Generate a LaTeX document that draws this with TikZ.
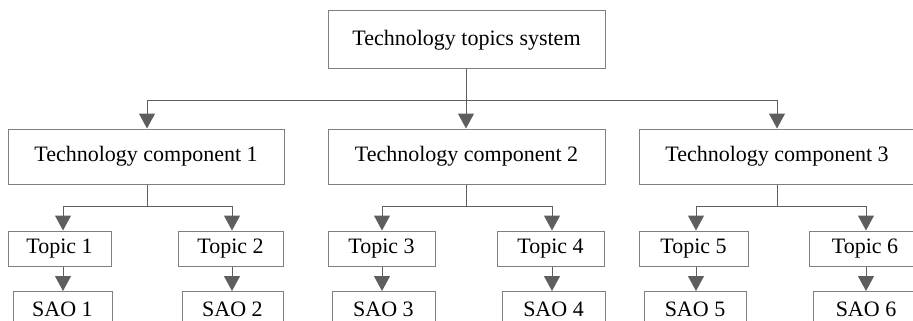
\documentclass[tikz,border=0pt]{standalone}
\usepackage{fontspec}
\setmainfont{Liberation Serif}
\usetikzlibrary{arrows.meta}
\definecolor{boxline}{HTML}{808080}
\definecolor{wire}{HTML}{5E5E5E}
\begin{document}
\begin{tikzpicture}[x=1pt,y=-1pt,
  box/.style={draw=boxline, line width=1pt, rectangle, inner sep=0pt,
    text=black, font=\fontsize{22}{26}\selectfont},
  rootbox/.style={box, minimum width=277pt, minimum height=58pt},
  compbox/.style={box, minimum width=276pt, minimum height=55pt},
  topicbox/.style={box, minimum height=35pt},
  saobox/.style={box, minimum height=35pt},
  wire/.style={draw=wire, line width=1pt},
  arr/.style={wire, -{Triangle[width=16pt,length=15pt]}}]
\useasboundingbox (0,0) rectangle (913,321);
\clip (0,0) rectangle (913,321);

% root and components
\node[rootbox] (root) at (466.5,40) {Technology topics system};
\node[compbox] (c1) at (146,156.5) {Technology component 1};
\node[compbox, minimum width=277pt] (c2) at (466.5,156.5) {Technology component 2};
\node[compbox] (c3) at (777,156.5) {Technology component 3};

% topics
\node[topicbox, minimum width=103pt] (t1) at (59.5,248.5) {Topic 1};
\node[topicbox, minimum width=105pt] (t2) at (230.5,248.5) {Topic 2};
\node[topicbox, minimum width=107pt] (t3) at (381.5,248.5) {Topic 3};
\node[topicbox, minimum width=107pt] (t4) at (550.5,248.5) {Topic 4};
\node[topicbox, minimum width=109pt] (t5) at (693.5,248.5) {Topic 5};
\node[topicbox, minimum width=112pt] (t6) at (865,248.5) {Topic 6};

% SAO boxes
\node[saobox, minimum width=99pt] (s1) at (62.5,309) {SAO 1};
\node[saobox, minimum width=101pt] (s2) at (232.5,309) {SAO 2};
\node[saobox, minimum width=103pt] (s3) at (383.5,309) {SAO 3};
\node[saobox, minimum width=103pt] (s4) at (553.5,309) {SAO 4};
\node[saobox, minimum width=102pt] (s5) at (695,309) {SAO 5};
\node[saobox, minimum width=106pt] (s6) at (866,309) {SAO 6};

% connector columns and bus rows
\coordinate (k1) at (147,0);
\coordinate (k2) at (466,0);
\coordinate (k3) at (777,0);
\coordinate (p1) at (63,0);
\coordinate (p2) at (232,0);
\coordinate (p3) at (382,0);
\coordinate (p4) at (552,0);
\coordinate (p5) at (696,0);
\coordinate (p6) at (866,0);
\coordinate (bus0) at (0,100);
\coordinate (bus1) at (0,206);

% root -> components
\draw[wire] (k2 |- root.south) -- (k2 |- bus0);
\draw[wire] (k1 |- bus0) -- (k3 |- bus0);
\foreach \k/\c in {k1/c1,k2/c2,k3/c3}
  \draw[arr] (\k |- bus0) -- (\k |- \c.north);

% components -> topics
\foreach \k/\a/\b/\ta/\tb in {k1/p1/p2/t1/t2,k2/p3/p4/t3/t4,k3/p5/p6/t5/t6}{
  \draw[wire] (\k |- c1.south) -- (\k |- bus1);
  \draw[wire] (\a |- bus1) -- (\b |- bus1);
  \draw[arr] (\a |- bus1) -- (\a |- \ta.north);
  \draw[arr] (\b |- bus1) -- (\b |- \tb.north);
}

% topics -> SAO
\foreach \p/\t/\s in {p1/t1/s1,p2/t2/s2,p3/t3/s3,p4/t4/s4,p5/t5/s5,p6/t6/s6}
  \draw[arr] (\p |- \t.south) -- (\p |- \s.north);
\end{tikzpicture}
\end{document}
